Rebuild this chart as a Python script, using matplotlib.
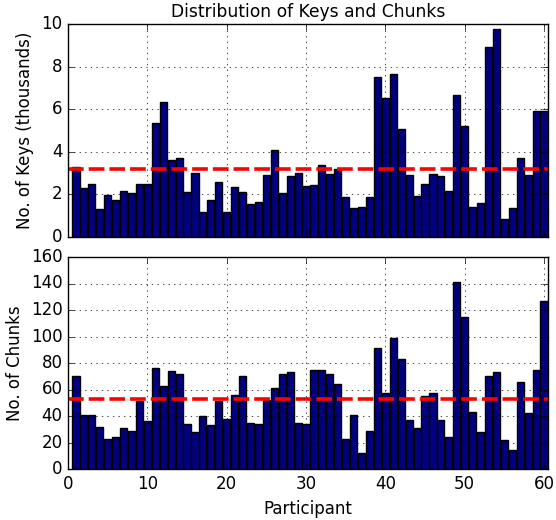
import numpy as np
import matplotlib
matplotlib.use("Agg")
import matplotlib.pyplot as plt

participants = np.arange(1, 61)

keys_thousands = [3.27, 2.29, 2.48, 1.30, 1.95, 1.73, 2.14, 2.06, 2.47, 2.51,
                  5.36, 6.32, 3.60, 3.72, 2.11, 2.99, 1.18, 1.74, 2.59, 1.19,
                  2.33, 2.12, 1.54, 1.63, 2.89, 4.07, 2.07, 2.86, 2.99, 2.39,
                  2.44, 3.36, 2.95, 3.17, 1.89, 1.37, 1.41, 1.87, 7.51, 6.52,
                  7.65, 5.06, 2.91, 1.92, 2.48, 2.95, 2.88, 2.17, 6.68, 5.23,
                  1.41, 1.60, 8.91, 9.77, 0.86, 1.35, 3.71, 2.92, 5.91, 5.91]

chunks = [70, 41, 41, 32, 23, 24, 31, 29, 51, 36,
          76, 63, 74, 72, 34, 28, 40, 33, 51, 38,
          56, 70, 35, 34, 52, 61, 72, 73, 35, 34,
          75, 75, 72, 64, 23, 41, 12, 29, 91, 57,
          99, 83, 37, 31, 55, 57, 37, 24, 141, 115,
          43, 28, 70, 73, 22, 14, 66, 42, 75, 127]

plt.style.use("classic")
plt.rcParams["figure.facecolor"] = "white"
plt.rcParams["lines.scale_dashes"] = False

fig = plt.figure(figsize=(5.56, 5.2), dpi=100)
ax1 = fig.add_axes([68 / 556, 1 - 237 / 520, 480 / 556, 213 / 520])
ax2 = fig.add_axes([68 / 556, 1 - 469 / 520, 480 / 556, 212 / 520])

# keys
ax1.bar(participants, keys_thousands, width=0.9, align="center",
        color="#000080", edgecolor="black")
ax1.axhline(np.mean(keys_thousands), color="red", linestyle="--",
            linewidth=2.6, dashes=(11.3, 3.6))
ax1.set_xlim(0, 60.5)
ax1.set_ylim(0, 10)
ax1.set_yticks(np.arange(0, 11, 2))
ax1.set_xticks(np.arange(0, 61, 10))
ax1.set_xticklabels([])
ax1.set_ylabel("No. of Keys (thousands)")
ax1.set_title("Distribution of Keys and Chunks", fontsize=12.3)
ax1.grid(True)

# chunks
ax2.bar(participants, chunks, width=0.9, align="center",
        color="#000080", edgecolor="black")
ax2.axhline(np.mean(chunks), color="red", linestyle="--",
            linewidth=2.6, dashes=(11.3, 3.6))
ax2.set_xlim(0, 60.5)
ax2.set_ylim(0, 160)
ax2.set_yticks(np.arange(0, 161, 20))
ax2.set_xticks(np.arange(0, 61, 10))
ax2.set_xlabel("Participant")
ax2.set_ylabel("No. of Chunks")
ax2.grid(True)

fig.savefig("out.png", dpi=100)
